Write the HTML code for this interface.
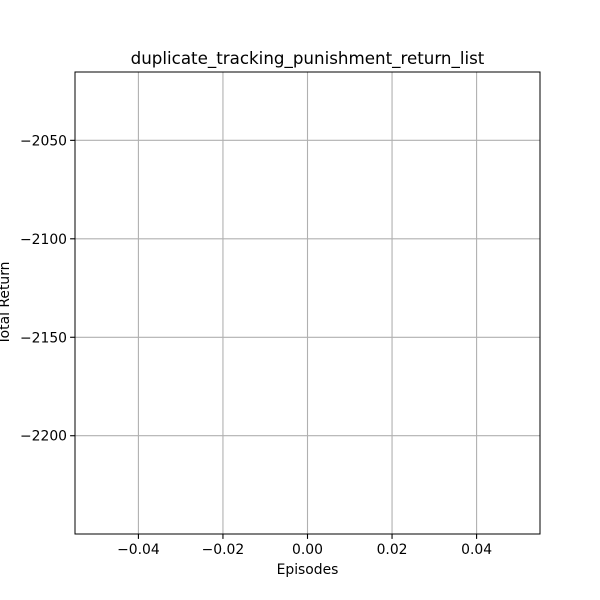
<!DOCTYPE html>
<html><head><meta charset="utf-8"><style>
html,body{margin:0;padding:0;background:#fff;}
svg{display:block;font-family:"DejaVu Sans","Liberation Sans",sans-serif;}
</style></head><body>
<svg id="chart" width="600" height="600" viewBox="0 0 600 600">
<rect x="0" y="0" width="600" height="600" fill="#fff"/>
<g id="grid"></g>
<g id="series"></g>
<rect x="75" y="72" width="465" height="462" fill="none" stroke="#000" stroke-width="1"/>
<g id="ticks"></g>
<text x="307.5" y="64" font-size="16.7" text-anchor="middle">duplicate_tracking_punishment_return_list</text>
<text x="307.5" y="574" font-size="13.9" text-anchor="middle">Episodes</text>
<text transform="translate(9,303) rotate(-90)" font-size="13.9" text-anchor="middle">Total Return</text>
</svg>
<script>
const episodes = [0];
const returns = [-2132.6];
const xTicks = [-0.04, -0.02, 0.00, 0.02, 0.04];
const xTickLabels = ["\u22120.04", "\u22120.02", "0.00", "0.02", "0.04"];
const yTicks = [-2050, -2100, -2150, -2200];
const yTickLabels = ["\u22122050", "\u22122100", "\u22122150", "\u22122200"];

const L = 75, R = 540, T = 72, B = 534;
const xMin = -0.055, xMax = 0.055;
const yMin = -2249.9, yMax = -2015.3;
function xs(v){ return L + (v - xMin) / (xMax - xMin) * (R - L); }
function ys(v){ return B - (v - yMin) / (yMax - yMin) * (B - T); }

const NS = "http://www.w3.org/2000/svg";
const grid = document.getElementById('grid');
const ticks = document.getElementById('ticks');
const series = document.getElementById('series');
function mk(tag, attrs, parent){
  const e = document.createElementNS(NS, tag);
  for (const k in attrs) e.setAttribute(k, attrs[k]);
  parent.appendChild(e);
  return e;
}
xTicks.forEach((v, i) => {
  const x = xs(v);
  const g = mk('line', {x1:x, x2:x, y1:T, y2:B, stroke:'#b0b0b0', 'stroke-width':1.1}, grid);
  
  
  const t = mk('line', {x1:x, x2:x, y1:B, y2:B+4.9, stroke:'#000', 'stroke-width':1.1}, ticks);
  
  
  const lb = mk('text', {x:x, y:B+20, 'font-size':13.9, 'text-anchor':'middle'}, ticks);
  lb.textContent = xTickLabels[i];
  
  
});
yTicks.forEach((v, i) => {
  const y = ys(v);
  const g = mk('line', {x1:L, x2:R, y1:y, y2:y, stroke:'#b0b0b0', 'stroke-width':1.1}, grid);
  
  
  const t = mk('line', {x1:L-4.9, x2:L, y1:y, y2:y, stroke:'#000', 'stroke-width':1.1}, ticks);
  
  
  const lb = mk('text', {x:L-8, y:y+5, 'font-size':13.9, 'text-anchor':'end'}, ticks);
  lb.textContent = yTickLabels[i];
  
  
});
const pts = episodes.map((e, i) => xs(e) + ',' + ys(returns[i])).join(' ');
const line = mk('polyline', {points:pts, fill:'none', stroke:'#1f77b4', 'stroke-width':2}, series);


</script>
</body></html>
